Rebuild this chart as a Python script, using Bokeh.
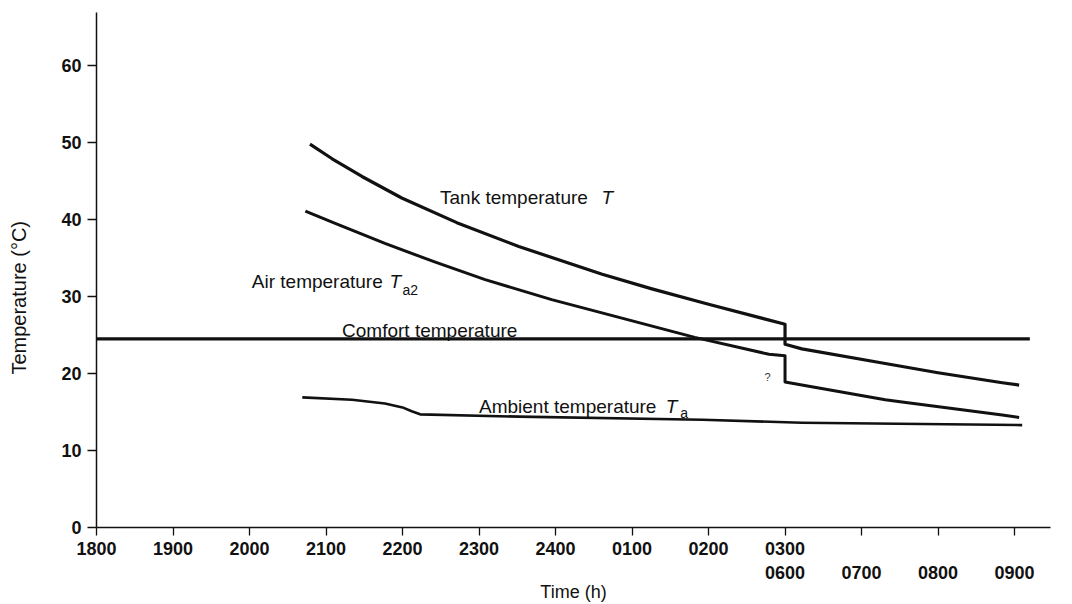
from bokeh.plotting import figure
from bokeh.models import Range1d, LinearAxis, FixedTicker
from bokeh.core.properties import value
from bokeh.embed import file_html
from bokeh.resources import INLINE

# ---- axis ticks / labels (x is hour index from 1800; axis is broken at 0300/0600)
x_ticks = [0, 1, 2, 3, 4, 5, 6, 7, 8, 9, 10, 11, 12]
x_row1_labels = ["1800", "1900", "2000", "2100", "2200", "2300", "2400",
                 "0100", "0200", "0300", "", "", ""]
x_row2_ticks = [9, 10, 11, 12]
x_row2_labels = ["0600", "0700", "0800", "0900"]
y_ticks = [0, 10, 20, 30, 40, 50, 60]

# ---- series
tank_x = [2.79, 3.08, 3.47, 3.99, 4.71, 5.52, 6.61, 7.26, 8.0, 9.0, 9.0, 9.22, 10.31, 11.0, 11.84, 12.06]
tank_y = [49.8, 47.9, 45.6, 42.8, 39.6, 36.5, 32.9, 31.0, 29.0, 26.4, 23.8, 23.2, 21.3, 20.1, 18.8, 18.5]

air_x = [2.73, 3.12, 3.77, 4.42, 5.08, 5.95, 6.83, 7.82, 8.79, 9.0, 9.0, 9.22, 10.31, 10.53, 11.84, 12.06]
air_y = [41.1, 39.5, 36.9, 34.5, 32.2, 29.6, 27.3, 24.7, 22.5, 22.3, 18.9, 18.5, 16.6, 16.3, 14.6, 14.3]

amb_x = [2.69, 3.34, 3.77, 4.0, 4.12, 4.23, 5.52, 7.92, 9.22, 12.1]
amb_y = [16.9, 16.6, 16.1, 15.6, 15.1, 14.7, 14.4, 14.0, 13.6, 13.3]

comfort_x = [0.0, 12.2]
comfort_y = [24.5, 24.5]

# ---- annotation texts
label_main = ["Tank temperature", "Air temperature", "Comfort temperature", "Ambient temperature"]
label_x = [4.49, 2.03, 3.21, 5.0]
label_y = [42.9, 31.9, 25.6, 15.7]
sym_text = ["T", "T", "T"]
sym_x = [6.60, 3.83, 7.44]
sym_y = [42.9, 31.9, 15.7]
sub_text = ["a2", "a"]
sub_x = [4.0, 7.63]
sub_y = [30.9, 14.9]

FONT = "Liberation Sans"
INK = "#111111"
NB = "\u00a0"

p = figure(width=1064, height=604,
           x_range=Range1d(0, 12.47), y_range=Range1d(0, 66.9),
           output_backend="svg", toolbar_location=None,
           min_border_left=96, min_border_top=12, min_border_right=14,
           min_border_bottom=10)
p.background_fill_color = "white"
p.border_fill_color = "white"
p.outline_line_color = None
p.xgrid.visible = False
p.ygrid.visible = False

# x axis row 1
xa = p.xaxis[0]
xa.ticker = FixedTicker(ticks=x_ticks)
xa.major_label_overrides = {t: l for t, l in zip(x_ticks, x_row1_labels)}
xa.axis_line_width = 1.5
xa.axis_line_color = INK
xa.major_tick_out = 8
xa.major_tick_in = 0
xa.major_tick_line_width = 1.3
xa.major_tick_line_color = INK
xa.minor_tick_line_color = None
xa.major_label_standoff = 6
xa.major_label_text_font = FONT
xa.major_label_text_font_style = "bold"
xa.major_label_text_font_size = "18px"
xa.major_label_text_color = INK

# x axis row 2
xb = LinearAxis(ticker=FixedTicker(ticks=x_row2_ticks),
                major_label_overrides={t: l for t, l in zip(x_row2_ticks, x_row2_labels)})
xb.axis_line_color = None
xb.major_tick_line_color = None
xb.minor_tick_line_color = None
xb.major_tick_out = 0
xb.major_tick_in = 0
xb.major_label_standoff = 8
xb.major_label_text_font = FONT
xb.major_label_text_font_style = "bold"
xb.major_label_text_font_size = "18px"
xb.major_label_text_color = INK
xb.axis_label = "Time (h)"
xb.axis_label_standoff = 0
xb.axis_label_text_font = FONT
xb.axis_label_text_font_style = "normal"
xb.axis_label_text_font_size = "18px"
xb.axis_label_text_color = INK
p.add_layout(xb, "below")

# y axis
ya = p.yaxis[0]
ya.ticker = FixedTicker(ticks=y_ticks)
ya.axis_line_width = 1.5
ya.axis_line_color = INK
ya.major_tick_out = 9
ya.major_tick_in = 0
ya.major_tick_line_width = 1.3
ya.major_tick_line_color = INK
ya.minor_tick_line_color = None
ya.major_label_standoff = 6
ya.major_label_text_font = FONT
ya.major_label_text_font_style = "bold"
ya.major_label_text_font_size = "18px"
ya.major_label_text_color = INK
ya.axis_label = "Temperature (°C)" + NB * 10
ya.axis_label_standoff = 28
ya.axis_label_text_font = FONT
ya.axis_label_text_font_style = "normal"
ya.axis_label_text_font_size = "20px"
ya.axis_label_text_color = INK

# series
p.line(comfort_x, comfort_y, line_color=INK, line_width=3.2)
p.line(tank_x, tank_y, line_color=INK, line_width=3.2, line_join="round")
p.line(air_x, air_y, line_color=INK, line_width=3.0, line_join="round")
p.line(amb_x, amb_y, line_color=INK, line_width=2.6, line_join="round")

# annotations
p.text(label_x, label_y, text=label_main, text_font=value(FONT), text_font_size="19px",
       text_color=INK, text_baseline="alphabetic", text_align="left")
p.text(sym_x, sym_y, text=sym_text, text_font=value(FONT), text_font_size="19px",
       text_font_style="italic", text_color=INK, text_baseline="alphabetic",
       text_align="left")
p.text(sub_x, sub_y, text=sub_text, text_font=value(FONT), text_font_size="14px",
       text_color=INK, text_baseline="alphabetic", text_align="left")
p.text([8.77], [19.6], text=["?"], text_font=value(FONT), text_font_size="11px",
       text_color="#333333", text_baseline="alphabetic", text_align="center")

open("out.html", "w").write(file_html(p, INLINE))
